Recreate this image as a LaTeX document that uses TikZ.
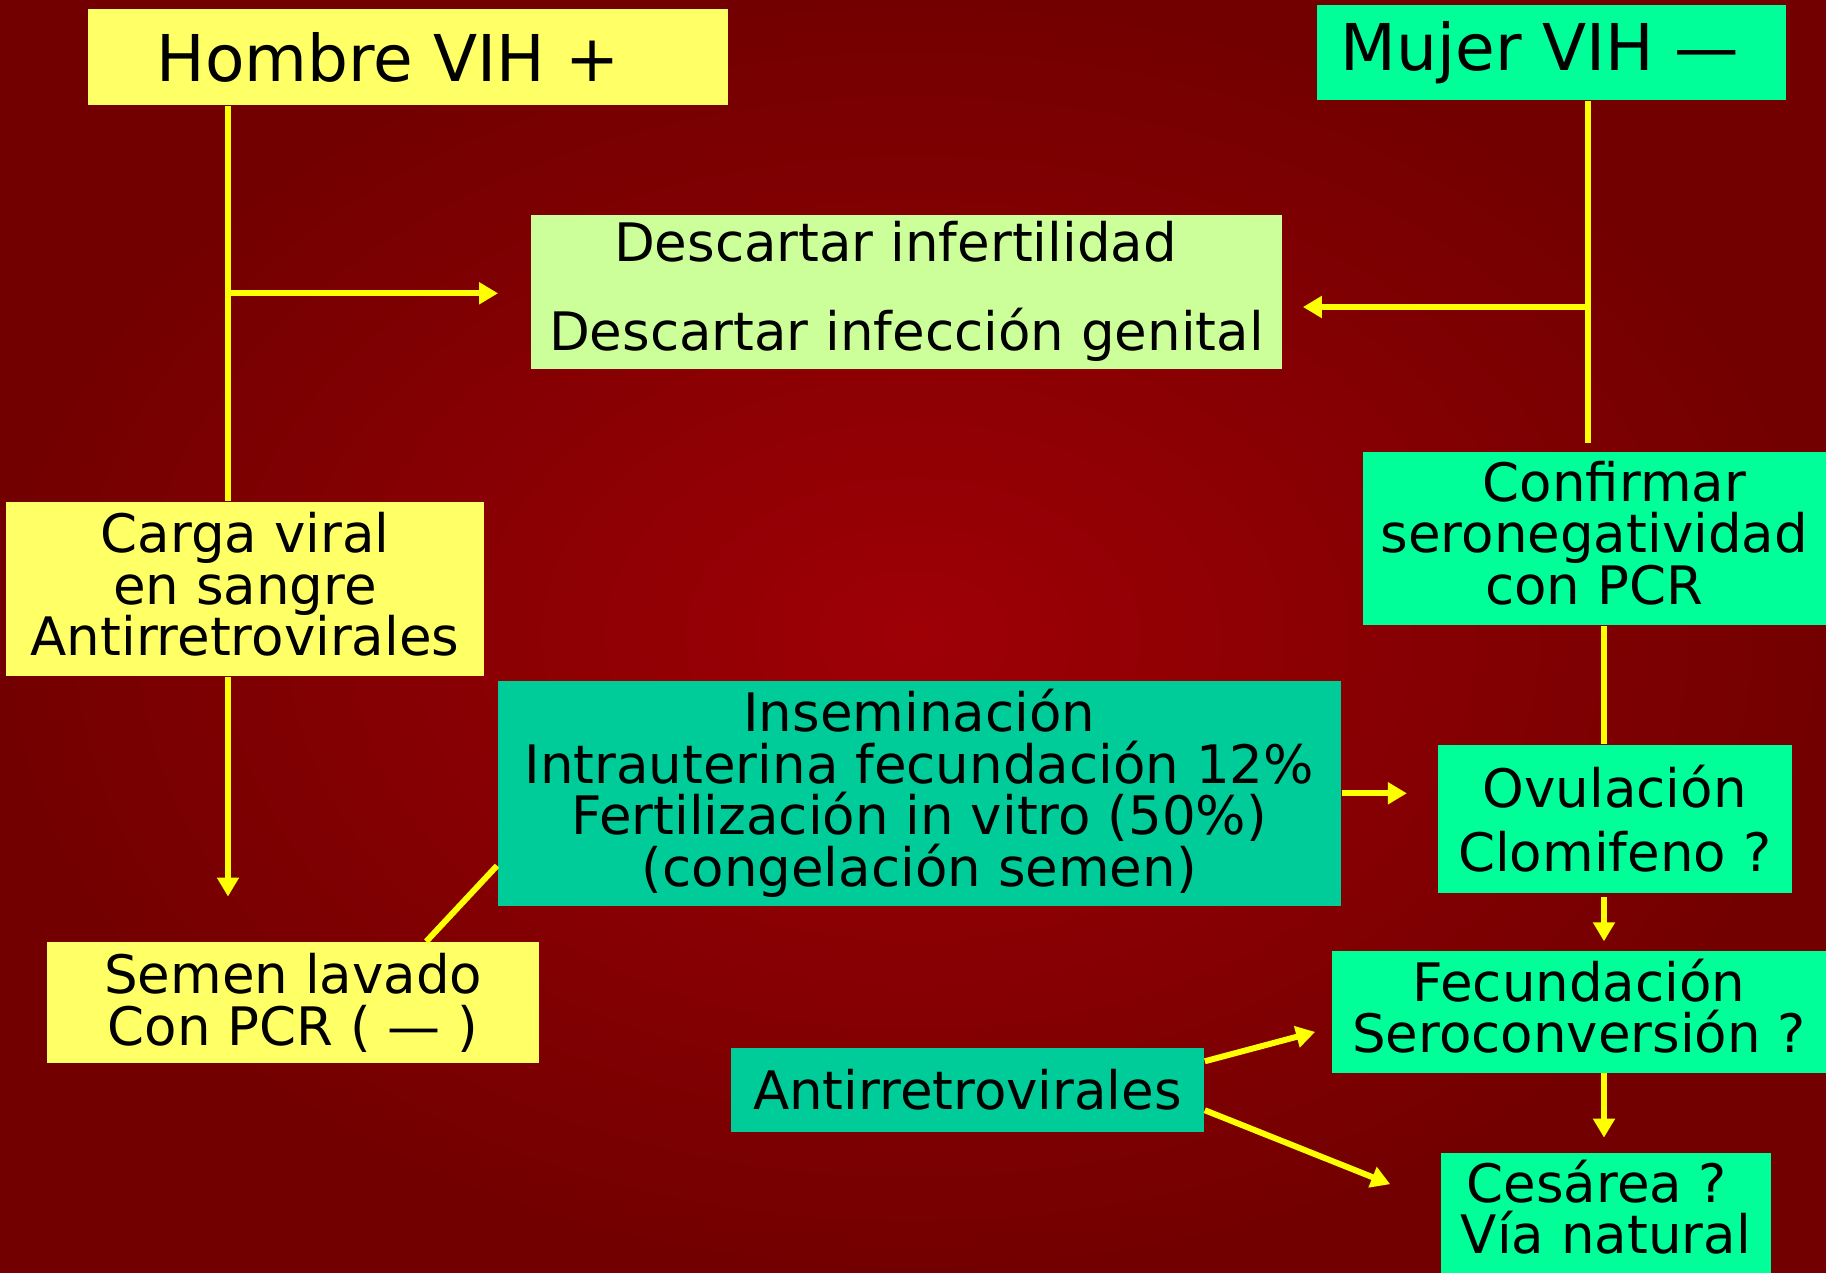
\documentclass[tikz,border=0pt]{standalone}
\usepackage{fontspec}
\setmainfont{DejaVu Sans}
\usetikzlibrary{arrows.meta,calc,positioning}

\definecolor{bgLight}{RGB}{158,0,6}
\definecolor{bgDark}{RGB}{115,0,0}
\definecolor{boxYellow}{HTML}{FFFF66}
\definecolor{boxGreen}{HTML}{00FF99}
\definecolor{boxTeal}{HTML}{00CC99}
\definecolor{boxPale}{HTML}{CCFF99}
\definecolor{lineYellow}{HTML}{FFFF00}

\newcommand{\lift}[1]{\rule[-#1]{0pt}{0pt}}

\tikzset{
	flowBox/.style={inner sep=0pt, align=center, text=black, font={\fontsize{15.08}{14.68}\selectfont}},
	yellowBox/.style={flowBox, fill=boxYellow},
	greenBox/.style={flowBox, fill=boxGreen},
	tealBox/.style={flowBox, fill=boxTeal},
	paleBox/.style={flowBox, fill=boxPale},
	titleFont/.style={font={\fontsize{18.35}{22}\selectfont}},
	link/.style={draw=lineYellow, line width=1.7pt},
	arrowLink/.style={link, -{Triangle[length=5.4pt,width=6pt]}}
}

\begin{document}
\begin{tikzpicture}[x=0.01cm, y=-0.01cm]
			\useasboundingbox (0,0) rectangle (1826,1273);
			\shade[inner color=bgLight, outer color=bgDark] (0,0) rectangle (1826,1273);

			\node[yellowBox, titleFont, minimum width=6.395cm, minimum height=0.957cm] (hombre) at (408.3,57.2) {Hombre VIH +\rule{0.4cm}{0pt}};
			\node[greenBox, titleFont, minimum width=4.686cm, minimum height=0.955cm] (mujer) at (1551.3,52.6) {Mujer VIH —\rule{0.23cm}{0pt}};
			\node[paleBox, font={\fontsize{15.08}{25.3}\selectfont}, minimum width=7.51cm, minimum height=1.535cm] (descartar) at (906.5,291.8) {Descartar infertilidad\rule{0.22cm}{0pt}\\Descartar infección genital};

			\node[yellowBox, minimum width=4.78cm, minimum height=1.74cm] (carga) at (245,589) {Carga viral\\en sangre\\Antirretrovirales\lift{0.1cm}};
			\node[greenBox, minimum width=4.633cm, minimum height=1.73cm] (confirmar) at (1594.3,538.8) {\rule{0.4cm}{0pt}Confirmar\\seronegatividad\\con PCR\lift{0.12cm}};
			\node[tealBox, minimum width=8.427cm, minimum height=2.247cm] (insem) at (919.3,793.3) {Inseminación\\Intrauterina fecundación 12\%\\Fertilización in vitro (50\%)\\(congelación semen)};
			\node[greenBox, font={\fontsize{15.08}{18.2}\selectfont}, minimum width=3.54cm, minimum height=1.477cm] (ovul) at (1614.7,818.9) {Ovulación\\Clomifeno ?};

			\node[yellowBox, minimum width=4.917cm, minimum height=1.21cm] (semen) at (293.2,1002.8) {Semen lavado\\Con PCR ( — )};
			\node[greenBox, minimum width=4.94cm, minimum height=1.217cm] (fecund) at (1579,1011.9) {Fecundación\\Seroconversión ?\lift{0.12cm}};
			\node[tealBox, minimum width=4.73cm, minimum height=0.834cm] (antiB) at (967.5,1090) {Antirretrovirales};
			\node[greenBox, minimum width=3.298cm, minimum height=1.197cm] (cesarea) at (1605.9,1213.2) {Cesárea ?\rule{0.18cm}{0pt}\\Vía natural\lift{0.13cm}};

			\coordinate (hBranch) at (228,293.3);
			\coordinate (mBranch) at (1588.4,307);
			\coordinate (rightAxis) at (1604,0);

			\draw[link] (hombre.south -| hBranch) -- (carga.north -| hBranch);
			\draw[arrowLink, shorten >=0.32cm] (hBranch) -- (descartar.west |- hBranch);
			\draw[arrowLink, shorten >=0.45cm] (carga.south -| hBranch) -- (semen.north -| hBranch);

			\draw[link, shorten >=0.09cm] (mujer.south -| mBranch) -- (confirmar.north -| mBranch);
			\draw[arrowLink, shorten >=0.2cm] (mBranch) -- (descartar.east |- mBranch);

			\draw[link] (confirmar.south -| rightAxis) -- (ovul.north -| rightAxis);
			\draw[arrowLink, shorten <=0.04cm, shorten >=0.09cm] (ovul.south -| rightAxis) -- (fecund.north -| rightAxis);
			\draw[arrowLink, shorten >=0.15cm] (fecund.south -| rightAxis) -- (cesarea.north -| rightAxis);

			\draw[arrowLink, shorten >=0.3cm] (insem.east) -- (insem.east -| ovul.west);
			\draw[link] ($(insem.south west)+(0,-40.7)$) -- ($(semen.north)+(133,0)$);

			\draw[arrowLink] ($(antiB.north east)+(0,13.7)$) -- ($(fecund.west)+(-16,20)$);
			\draw[arrowLink] ($(antiB.south east)+(0,-22.2)$) -- ($(cesarea.west)+(-50,-29)$);
		\end{tikzpicture}
\end{document}
